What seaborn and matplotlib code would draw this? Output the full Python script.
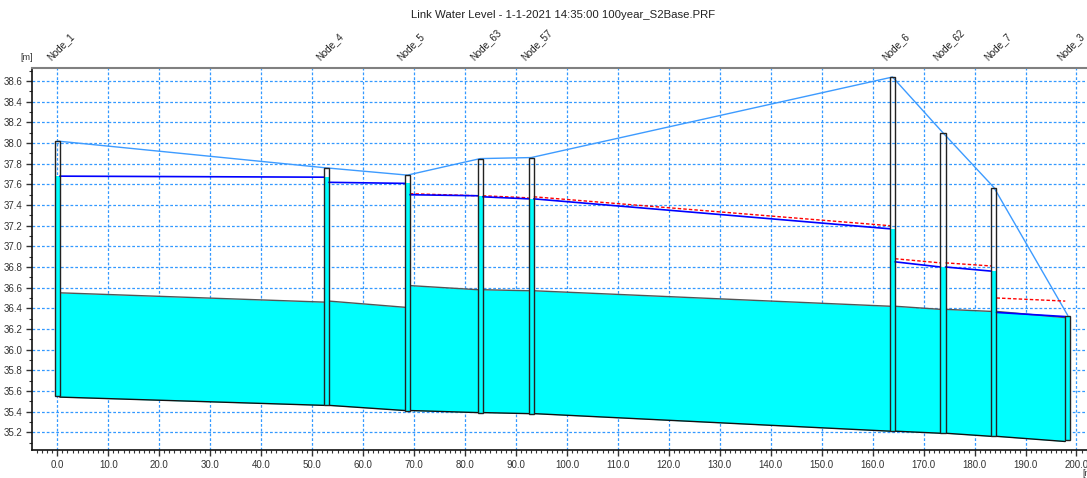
import numpy as np
import pandas as pd
import matplotlib.pyplot as plt
from matplotlib.patches import Rectangle
from matplotlib.ticker import MultipleLocator, FormatStrFormatter
import seaborn as sns

# nodes along the profile
node_names = ['Node_1', 'Node_4', 'Node_5', 'Node_63', 'Node_57', 'Node_6', 'Node_62', 'Node_7', 'Node_3']
node_chainage = [0.0, 52.8, 68.7, 83.0, 93.0, 163.9, 173.8, 183.8, 198.3]
ground_level = [38.02, 37.76, 37.69, 37.85, 37.86, 38.64, 38.10, 37.57, 36.33]
node_bottom = [35.55, 35.46, 35.41, 35.39, 35.38, 35.21, 35.19, 35.16, 35.12]
node_water = [37.68, 37.67, 37.61, 37.49, 37.46, 37.17, 36.80, 36.76, 36.32]

# links between consecutive nodes (upstream / downstream ends)
crown_up = [36.55, 36.47, 36.62, 36.58, 36.57, 36.42, 36.39, 36.37]
crown_down = [36.46, 36.41, 36.58, 36.57, 36.42, 36.39, 36.37, 36.31]
invert_up = [35.54, 35.46, 35.41, 35.39, 35.38, 35.21, 35.19, 35.16]
invert_down = [35.46, 35.41, 35.39, 35.38, 35.21, 35.19, 35.16, 35.11]
water_up = [37.68, 37.62, 37.50, 37.48, 37.46, 36.85, 36.80, 36.36]
water_down = [37.67, 37.61, 37.49, 37.46, 37.17, 36.80, 36.76, 36.32]
red_up = [np.nan, np.nan, 37.51, 37.49, 37.48, 36.88, 36.84, 36.50]
red_down = [np.nan, np.nan, 37.49, 37.47, 37.20, 36.84, 36.81, 36.47]

title = 'Link Water Level - 1-1-2021 14:35:00 100year_S2Base.PRF'

half_w = 0.5
n_links = len(crown_up)
x_start = [node_chainage[i] + half_w for i in range(n_links)]
x_end = [node_chainage[i + 1] - half_w for i in range(n_links)]

links = pd.DataFrame({
    'link': np.repeat(np.arange(n_links), 2),
    'x': np.ravel(np.column_stack([x_start, x_end])),
    'crown': np.ravel(np.column_stack([crown_up, crown_down])),
    'invert': np.ravel(np.column_stack([invert_up, invert_down])),
    'water': np.ravel(np.column_stack([water_up, water_down])),
    'red': np.ravel(np.column_stack([red_up, red_down])),
})

sns.set_style('ticks')
plt.rcParams['font.family'] = ['Liberation Sans', 'DejaVu Sans']

fig = plt.figure(figsize=(10.87, 4.78), dpi=100)
ax = fig.add_axes([0.0294, 0.058, 0.975, 0.799])

# pipes
for i, g in links.groupby('link'):
    ax.fill_between(g['x'], g['invert'], g['crown'], color='#00ffff', lw=0, zorder=2)

sns.lineplot(data=links, x='x', y='crown', units='link', estimator=None, sort=False,
             color='#555555', lw=1, ax=ax, zorder=3)
sns.lineplot(data=links, x='x', y='invert', units='link', estimator=None, sort=False,
             color='#111111', lw=1, ax=ax, zorder=3)

# manholes
for x, bot, top, wl in zip(node_chainage, node_bottom, ground_level, node_water):
    ax.add_patch(Rectangle((x - half_w, bot), 2 * half_w, wl - bot,
                           facecolor='#00ffff', edgecolor='none', zorder=3))
    ax.add_patch(Rectangle((x - half_w, bot), 2 * half_w, top - bot,
                           fill=False, edgecolor='#222222', lw=1, zorder=5))

# ground level
sns.lineplot(x=node_chainage, y=ground_level, sort=False, color='#3d9bff', lw=1, ax=ax, zorder=4)

# water levels
sns.lineplot(data=links.dropna(), x='x', y='red', units='link', estimator=None, sort=False,
             color='red', lw=1, linestyle=(0, (2.5, 1.5)), ax=ax, zorder=4)
sns.lineplot(data=links, x='x', y='water', units='link', estimator=None, sort=False,
             color='#0000ff', lw=1.2, ax=ax, zorder=4)

ax.set_xlim(-4.97, 203.0)
ax.set_ylim(35.025, 38.724)
ax.xaxis.set_major_locator(MultipleLocator(10))
ax.xaxis.set_minor_locator(MultipleLocator(1))
ax.yaxis.set_major_locator(MultipleLocator(0.2))
ax.yaxis.set_minor_locator(MultipleLocator(0.1))
ax.xaxis.set_major_formatter(FormatStrFormatter('%.1f'))
ax.yaxis.set_major_formatter(FormatStrFormatter('%.1f'))
ax.tick_params(which='major', direction='out', length=4, width=1, labelsize=7,
               colors='#333333', pad=3)
ax.tick_params(which='minor', direction='out', length=2.5, width=0.8, colors='#333333')
ax.set_xlabel('')
ax.set_ylabel('')

ax.grid(True, which='major', color='#3399ff', linestyle=(0, (2.2, 1.6)), lw=0.9)
ax.set_axisbelow(True)

for side in ['left', 'bottom']:
    ax.spines[side].set_color('#111111')
    ax.spines[side].set_linewidth(1.2)
ax.spines['top'].set_color('#808080')
ax.spines['top'].set_linewidth(1.5)
ax.spines['right'].set_visible(False)

for name, x in zip(node_names, node_chainage):
    ax.annotate(name, xy=(x, 1.0), xycoords=('data', 'axes fraction'),
                xytext=(-3.6, 4.3), textcoords='offset points', rotation=45,
                rotation_mode='anchor', ha='left', va='bottom', fontsize=7,
                color='#222222', annotation_clip=False)

fig.text(0.518, 0.969, title, ha='center', va='center', fontsize=8.2, color='#222222')
fig.text(26.5 / 1087, 1 - 57 / 478, '[m]', ha='center', va='center', fontsize=6.5, color='#333333')
fig.text(1082 / 1087, 1 - 474 / 478, '[m]', ha='left', va='center', fontsize=6.5, color='#333333')

fig.savefig('out.png', dpi=100)
